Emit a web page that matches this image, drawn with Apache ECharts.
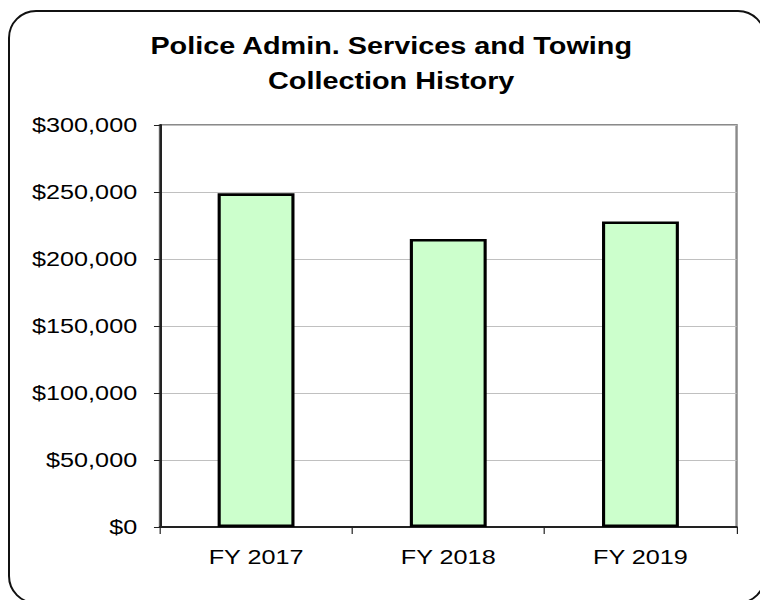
<!DOCTYPE html>
<html>
<head>
<meta charset="utf-8">
<script src="https://cdn.jsdelivr.net/npm/echarts@6/dist/echarts.min.js"></script>
<style>
  html, body { margin: 0; padding: 0; background: #fff; overflow: hidden; }
  #frame {
    position: absolute; left: 8px; top: 10px; width: 758px; height: 594px;
    border: 2px solid #111; border-radius: 28px; box-sizing: border-box;
  }
  /* the original picture is stretched sideways, so the chart is too */
  #chart {
    position: absolute; left: 0; top: 0; width: 633.33px; height: 600px;
    transform: scaleX(1.2); transform-origin: 0 0;
  }
</style>
</head>
<body>
<div id="frame"></div>
<div id="chart"></div>
<script>
// === Donnees ===
const years = ["FY 2017", "FY 2018", "FY 2019"];
const collections = [249000, 215000, 228000];
const titleLines = ["Police Admin. Services and Towing", "Collection History"];

const font = "Liberation Sans, Arial, sans-serif";

function dollars(v) {
  return "$" + v.toLocaleString("en-US");
}

document.addEventListener("DOMContentLoaded", () => {
  const chart = echarts.init(document.getElementById("chart"), null, { renderer: "svg" });
  const option = {
    backgroundColor: "transparent",
    animation: false,
    title: {
      text: titleLines.join("\n"),
      left: 326,
      top: 28,
      padding: 0,
      textAlign: "center",
      textStyle: { fontFamily: font, fontSize: 24, fontWeight: "bold", color: "#000", lineHeight: 35 }
    },
    grid: {
      left: 133.3, right: 19.2, top: 125, bottom: 73,
      show: true, borderColor: "#8a8a8a", borderWidth: 2, backgroundColor: "#fff"
    },
    xAxis: {
      type: "category",
      data: years,
      axisLine: { lineStyle: { color: "#222", width: 2 } },
      axisTick: { show: true, length: 7, lineStyle: { color: "#222", width: 1 } },
      axisLabel: { margin: 19, fontFamily: font, fontSize: 21, color: "#000" }
    },
    yAxis: {
      type: "value",
      min: 0, max: 300000, interval: 50000,
      axisLine: { show: true, lineStyle: { color: "#222", width: 2 } },
      axisTick: { show: true, length: 5, lineStyle: { color: "#222", width: 1 } },
      axisLabel: { margin: 19, fontFamily: font, fontSize: 21, color: "#000", formatter: dollars },
      splitLine: { lineStyle: { color: "#c0c0c0", width: 1 } }
    },
    series: [{
      type: "bar",
      data: collections,
      barWidth: "40%",
      itemStyle: { color: "#ccffcc", borderColor: "#000", borderWidth: 2.6 }
    }]
  };
  chart.setOption(option);
});
</script>
</body>
</html>
